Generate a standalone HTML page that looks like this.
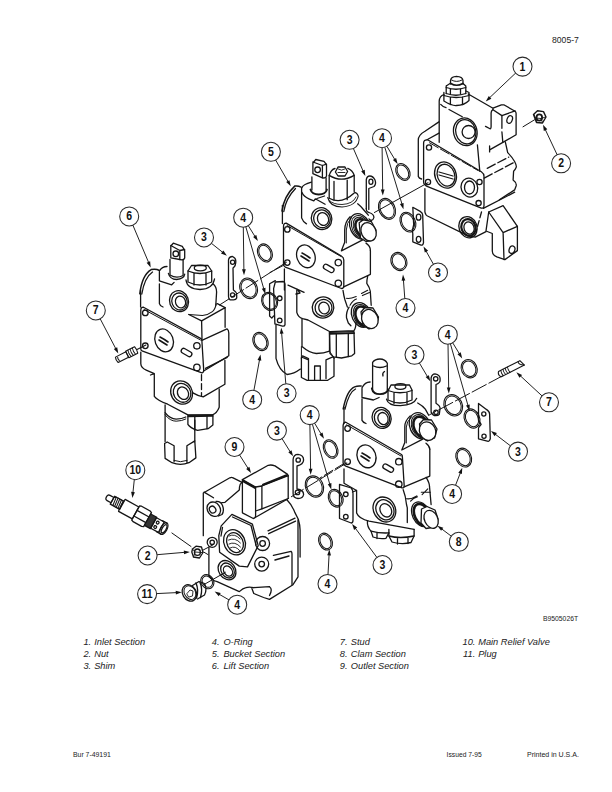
<!DOCTYPE html>
<html><head><meta charset="utf-8"><style>
html,body{margin:0;padding:0;background:#fff;width:612px;height:792px;overflow:hidden}
svg{position:absolute;left:0;top:0}
text{font-family:"Liberation Sans",sans-serif;fill:#222}
.lg{font-style:italic;font-size:9.6px}
.c{fill:none;stroke:#2a2a2a;stroke-width:1.05}
.cn{font-size:12.2px;font-weight:bold;text-anchor:middle;fill:#111}
.ldr{fill:none;stroke:#222;stroke-width:1}
.arw{fill:#111;stroke:none}
.or{stroke-width:1.1}
.or2{stroke-width:1}
.ln{fill:none;stroke:#151515;stroke-width:1.3;stroke-linecap:round;stroke-linejoin:round}
</style></head><body>
<svg width="612" height="792" viewBox="0 0 612 792">
<g id="txt">
<text x="552" y="43" style="font-size:9.6px" transform="translate(552 0) scale(0.9 1) translate(-552 0)">8005-7</text>
<text x="543" y="620.6" style="font-size:8px" transform="translate(543 0) scale(0.85 1) translate(-543 0)">B9505026T</text>
<text x="73" y="757" style="font-size:8px" transform="translate(73 0) scale(0.86 1) translate(-73 0)">Bur 7-49191</text>
<text x="446.6" y="757" style="font-size:8px" transform="translate(446.6 0) scale(0.84 1) translate(-446.6 0)">Issued 7-95</text>
<text x="527" y="757" style="font-size:8px" transform="translate(527 0) scale(0.88 1) translate(-527 0)">Printed in U.S.A.</text>
<g class="lg">
<text x="83.4" y="645.0" transform="translate(83.4 0) scale(0.965 1) translate(-83.4 0)">1.</text><text x="94.2" y="645.0" transform="translate(94.2 0) scale(0.965 1) translate(-94.2 0)">Inlet Section</text>
<text x="83.4" y="657.0" transform="translate(83.4 0) scale(0.965 1) translate(-83.4 0)">2.</text><text x="94.2" y="657.0" transform="translate(94.2 0) scale(0.965 1) translate(-94.2 0)">Nut</text>
<text x="83.4" y="668.9" transform="translate(83.4 0) scale(0.965 1) translate(-83.4 0)">3.</text><text x="94.2" y="668.9" transform="translate(94.2 0) scale(0.965 1) translate(-94.2 0)">Shim</text>
<text x="211.8" y="645.0" transform="translate(211.8 0) scale(0.965 1) translate(-211.8 0)">4.</text><text x="223.4" y="645.0" transform="translate(223.4 0) scale(0.965 1) translate(-223.4 0)">O-Ring</text>
<text x="211.8" y="657.0" transform="translate(211.8 0) scale(0.965 1) translate(-211.8 0)">5.</text><text x="223.4" y="657.0" transform="translate(223.4 0) scale(0.965 1) translate(-223.4 0)">Bucket Section</text>
<text x="211.8" y="668.9" transform="translate(211.8 0) scale(0.965 1) translate(-211.8 0)">6.</text><text x="223.4" y="668.9" transform="translate(223.4 0) scale(0.965 1) translate(-223.4 0)">Lift Section</text>
<text x="339.8" y="645.0" transform="translate(339.8 0) scale(0.965 1) translate(-339.8 0)">7.</text><text x="350.8" y="645.0" transform="translate(350.8 0) scale(0.965 1) translate(-350.8 0)">Stud</text>
<text x="339.8" y="657.0" transform="translate(339.8 0) scale(0.965 1) translate(-339.8 0)">8.</text><text x="350.8" y="657.0" transform="translate(350.8 0) scale(0.965 1) translate(-350.8 0)">Clam Section</text>
<text x="339.8" y="668.9" transform="translate(339.8 0) scale(0.965 1) translate(-339.8 0)">9.</text><text x="350.8" y="668.9" transform="translate(350.8 0) scale(0.965 1) translate(-350.8 0)">Outlet Section</text>
<text x="462.5" y="645.0" transform="translate(462.5 0) scale(0.965 1) translate(-462.5 0)">10.</text><text x="478.2" y="645.0" transform="translate(478.2 0) scale(0.965 1) translate(-478.2 0)">Main Relief Valve</text>
<text x="463.1" y="657.0" transform="translate(463.1 0) scale(0.965 1) translate(-463.1 0)">11.</text><text x="478.2" y="657.0" transform="translate(478.2 0) scale(0.965 1) translate(-478.2 0)">Plug</text>
</g>
</g>

<g id="p1" class="ln">
<!-- fitting -->
<path d="M450.5,84 V80.5 Q451,76.5 456.5,76.3 Q462.5,76.5 463,80.5 V84"/>
<path d="M451.5,80 Q456.5,83 462,80" stroke-width="1"/>
<path d="M450.8,83.5 Q456.5,87 462.8,83.5" stroke-width="1.6"/>
<path d="M446.2,86 L450,83.5 M463,83.5 L465.8,86 M446.2,86 V93.5 M465.8,86 V93.5"/>
<path d="M446.2,87.5 Q456,91 465.8,87.5 M450.4,89 V94 M460.5,89 V94"/>
<path d="M446.2,93.5 Q456,97 465.8,93.5" stroke-width="1.3"/>
<path d="M443.9,92.5 V101 Q452,106 456.5,105.5 Q464,105.5 469,100.5 V92.5 L466,91"/>
<path d="M443.9,95.5 Q456,99.5 469,95.5 M450.4,97.5 V104.5 M462.5,97 V104.5"/>
<!-- boss -->
<path d="M443.9,94.5 Q439.6,96 439.2,101 V142.3"/>
<path d="M468.2,94 L493,108.2"/>
<path d="M440.7,104.4 Q443,107 446,107.6 M449,109.5 L462.3,116.8"/>
<!-- ear -->
<path d="M493,108.2 L501.4,104.8 H503.8 L515.1,111.2 Q516.1,112 516.1,113.5 V134.7 L503.3,142.1 L489.6,149.9"/>
<path d="M489.6,146 V151.9"/>
<path d="M493,109.7 L501.9,115.6 L515.1,110.9"/>
<path d="M501.9,115.6 V128.3 M501.9,131.8 L502.8,142.1"/>
<path d="M493,109.5 Q491,111 491.1,113 V126.4 Q491,129 490,128.8 L485.5,126.4"/>
<ellipse cx="509.7" cy="119.5" rx="2.6" ry="4" transform="rotate(20 509.7 119.5)"/>
<path d="M505.3,141.9 L507.7,152.6 Q512,157 514.6,161.5 Q517,166 516.1,167.4 Q515,170 513.6,171.3 L513.1,180.1 Q517,183 516.1,186 L514.6,189.9 L499.4,199.7"/>
<!-- upper port -->
<ellipse cx="465.3" cy="131.8" rx="11.7" ry="14" transform="rotate(-15 465.3 131.8)"/>
<ellipse cx="465.8" cy="131.8" rx="10" ry="12.3" transform="rotate(-15 465.8 131.8)"/>
<circle cx="468.6" cy="132" r="6.5"/>
<path d="M477.4,144.8 L479.8,171.3"/>
<!-- back plate -->
<path d="M438.9,121.9 L425,131.2 Q418.3,135 418.3,140 V176.5 Q419,178.5 421.6,179"/>
<path d="M439,133.1 L427,139.7"/>
<!-- flange face -->
<path d="M427.6,139.8 L481.3,171.7 Q484,173.5 484,176.3 V205.5 Q484,208.5 481.3,208.1 L428.3,186.9 Q423.6,185 423.6,182 V143 Q423.6,139.5 427.6,139.8 Z"/>
<path d="M429.5,142.8 L478,170.5" stroke-dasharray="10 2.5" stroke-width="1"/>
<path d="M484.2,178.1 L513.1,162.9 M487.2,168.3 L508.7,157.1" stroke-dasharray="9 3"/>
<path d="M483.3,208.4 L514.7,192.2"/>
<circle cx="429" cy="147.5" r="2.6"/><circle cx="479.5" cy="182" r="2.6"/>
<circle cx="428" cy="182" r="2.6"/><circle cx="478.6" cy="203.1" r="2.6"/>
<ellipse cx="445.5" cy="175" rx="10.6" ry="13.4" transform="rotate(-20 445.5 175)"/>
<ellipse cx="446" cy="175.2" rx="8.6" ry="11.2" transform="rotate(-20 446 175.2)"/>
<path d="M439,172 L453,176 M439,175 L453,179"/>
<ellipse cx="469.4" cy="187.6" rx="8.2" ry="9.6" transform="rotate(-20 469.4 187.6)"/>
<ellipse cx="469.5" cy="187.5" rx="5" ry="6.5"/>
<!-- lower body -->
<path d="M424.9,188.6 V212 Q425.5,215.5 428.5,216.5 L467.1,235.3 L475.2,237.1 L486,231.7"/>
<path d="M481.5,212 L476.1,231.7" stroke-dasharray="6 3"/>
<ellipse cx="468" cy="227.2" rx="9" ry="10.8" transform="rotate(-20 468 227.2)"/>
<ellipse cx="468.5" cy="227.5" rx="7" ry="8.5" transform="rotate(-20 468.5 227.5)" stroke-width="2.2"/>
<ellipse cx="469" cy="228" rx="5" ry="6.2" transform="rotate(-20 469 228)"/>
<!-- foot -->
<path d="M486,230.8 L488.7,212 L503.1,205.7 L517.4,226.3 V250.6 L504.9,259.6 L496.8,256.9 Q492.3,255 492.3,251 V233.5 L486,231"/>
<path d="M488.7,212 L503.1,232.6 L517.4,226.3 M503.1,232.6 L504,259.6"/>
<ellipse cx="512" cy="249.7" rx="2.8" ry="3.8" transform="rotate(20 512 249.7)"/>
</g>

<g id="p5" class="ln">
<!-- spool tab -->
<path d="M312.9,173.7 V163 L315.8,159.5 L324,161.4 L326.5,164.7 V176 Q326,178 324,178 L322.4,177.8 L312.9,173.7"/>
<path d="M312.9,162 L322.4,165.5 L326.5,164.2 M322.4,165.5 V177.8"/>
<circle cx="317.6" cy="169.8" r="2.8"/>
<path d="M311.9,177 V190 M326.1,178 V190"/>
<path d="M310.4,189.5 Q312,194.5 318.7,194.5 Q325.5,194.5 327,189.5" stroke-width="1.8"/>
<!-- tall fitting -->
<path d="M329.2,198.2 V175.4 Q331,169.5 335,168.5 M347.8,168.3 Q352.5,170 354.2,175.4 V191.6"/>
<path d="M329.2,175.4 Q341.3,183 354.2,175.4"/>
<path d="M334,181.3 V199.7 M347.2,180.2 V199.7"/>
<path d="M329.2,198.2 Q341.3,205 354.2,193.1"/>
<path d="M335.4,172 L338,167 H345 L347.6,171.5 L345,176 H338 Z"/>
<path d="M338,169 Q341.5,171.5 345,169 M338,172.5 H345" stroke-width="0.9"/>
<path d="M327.7,197.5 Q330,207 342,207 Q356,206 358.2,196 Q357.5,193 354.6,192.4" stroke-width="1.1"/>
<path d="M329.5,200.5 Q333,204.5 342,204.5 Q353,204 356,197" stroke-width="0.9"/>
<!-- top body -->
<path d="M302,187.5 Q303,184.6 311.4,182.2"/>
<path d="M301.6,188 V217.9 Q303,222 306.5,223.8"/>
<path d="M302,192.5 Q303.5,196.5 308.9,198.8 L313.8,200.8 L315.3,198.8 L325.1,204.2 M317,198.5 L324.5,196"/>
<path d="M282,211.1 Q284,196 294.7,186.1 Q298,185.5 301.1,187.1" stroke-width="1.5"/>
<path d="M283.8,211.5 Q285.8,198.5 295.5,188.5" stroke-width="1.3"/>
<path d="M282.4,205.6 V223.5"/>

<!-- upper port -->
<ellipse cx="321.6" cy="218.6" rx="10.2" ry="11" transform="rotate(-20 321.6 218.6)"/>
<ellipse cx="322" cy="218.8" rx="8.3" ry="9" transform="rotate(-20 322 218.8)"/>
<ellipse cx="323" cy="219" rx="5.5" ry="6.5" transform="rotate(-20 323 219)"/>
<!-- right plug upper -->
<path d="M357.7,203.8 Q361,206.5 363,209 L368.3,215.2"/>
<path d="M350.1,216.7 Q344.7,222 344.7,230 V242.3 L341.4,250.8 L362.7,239.8"/><path d="M351.5,217.5 Q346.3,223 346.3,230 V243" stroke-width="1"/>
<path d="M366,243.1 Q370.4,246 370.4,250.4"/>
<ellipse cx="360" cy="226.5" rx="9.8" ry="13.3" transform="rotate(-25 360 226.5)"/>
<ellipse cx="360.6" cy="227" rx="8.5" ry="12" transform="rotate(-25 360.6 227)" stroke-width="1"/>
<ellipse cx="361.2" cy="227.5" rx="7.3" ry="10.7" transform="rotate(-25 361.2 227.5)" stroke-width="1"/>
<ellipse cx="362" cy="228" rx="6" ry="9.2" transform="rotate(-25 362 228)" stroke-width="2.6"/>
<path d="M359.2,222.7 L363.5,219.8 L371.3,221.5 L376,230 L374,239.5 L366,241.5 L360.5,238 Z" fill="#fff"/>
<ellipse cx="368.6" cy="231.8" rx="7.3" ry="9.5" transform="rotate(-25 368.6 231.8)" fill="#fff"/>
<!-- flange face -->
<path d="M286.2,223.1 L341.4,256 Q343.8,257.5 343.8,260 V286 Q343.8,288.5 341.5,288.5 L285.3,267.1 Q283.5,266.5 283.5,264 V226.5 Q283.5,223 286.2,223.1 Z"/>
<path d="M287,225.5 L341,256.5" stroke-width="1"/>
<circle cx="287.3" cy="229.4" r="2.7"/><circle cx="287.3" cy="262.6" r="2.7"/>
<circle cx="338.3" cy="262.6" r="3.2"/><circle cx="338.3" cy="283.3" r="3.2"/>
<ellipse cx="305.9" cy="256.3" rx="9" ry="11.7" transform="rotate(-20 305.9 256.3)"/>
<path d="M302,253 Q306,255 310,258 M301,256 L309,261" stroke-width="1.6"/>
<rect x="323" y="266" width="11.5" height="5" rx="2.5" transform="rotate(30 328.9 268.4)"/>
<!-- right face -->
<path d="M370.4,250.4 V274.3 L343.7,286.9"/>
<!-- lower body -->
<path d="M284.4,269 V290"/>
<path d="M288,285.1 L304.1,292.3 M297,289 L300,293 L296,294"/>
<path d="M343,290.3 Q343.8,296 345,300 L347.4,307.1 M367.7,276.2 Q366.8,280 366.8,283.3 Q370,288 370.3,291.2 L371.2,305.3"/>
<path d="M346.5,298.3 Q350,299 356.2,296.5 M361.5,293.4 L367.7,290.3 M350,305.3 Q353,300 356.5,299 M362.4,295.6 L369.5,292.5" stroke-width="1.1"/>
<path d="M349.1,307.1 Q346,312 346.5,317.7 L348.3,323 L350.9,325.7"/>
<path d="M296.8,290 V312.3 Q298,317 302.6,318.6 L308,320 L330,331.7 L354,330.6 Q356,328 356,322"/>
<ellipse cx="323" cy="307.5" rx="10.8" ry="10.5" transform="rotate(-20 323 307.5)"/>
<ellipse cx="323.5" cy="307.8" rx="8.5" ry="8.3" transform="rotate(-20 323.5 307.8)"/>
<ellipse cx="324" cy="308" rx="5.2" ry="6" transform="rotate(-20 324 308)"/>
<!-- lower plug -->
<ellipse cx="361.5" cy="315" rx="9.7" ry="12.8" transform="rotate(-25 361.5 315)"/>
<ellipse cx="362.2" cy="315.5" rx="8.4" ry="11.5" transform="rotate(-25 362.2 315.5)" stroke-width="1"/>
<ellipse cx="362.9" cy="316" rx="7" ry="10" transform="rotate(-25 362.9 316)" stroke-width="2.6"/>
<path d="M361,312 L365,307.5 L373,308 L378.5,317 L376,326 L369,329 L363,325 Z" fill="#fff"/>
<ellipse cx="369.9" cy="319" rx="8" ry="9.8" transform="rotate(-25 369.9 319)" fill="#fff"/>
<!-- spool housing -->
<path d="M302,319.2 V346.6 Q310,353.5 316.3,353.5 Q324,353.5 329.5,351.2 V331.7"/>
<path d="M301.4,358 V377.5 L307.2,380.3 H327.7 L334,376.3 V358"/>
<path d="M301.4,358 L302.6,355.8 L308.5,358.5 V379.8 M302.6,357.5 L308.5,359.8" />
<path d="M334,358 L332.9,356.9 L326,359.8 V378.6"/>
<path d="M314.6,379.8 V366 H320.3 V379.5"/>
<path d="M301.4,346.6 V358 M329.5,351.2 L334,358" stroke-width="1"/>
<!-- hex boss -->
<path d="M329.5,332.3 L354,331.7 L354.6,353.5 L351.8,355.8 L341.5,358 L333.5,356.9 L330,353.5 Z"/>
<path d="M336.3,334 V357 M348.3,334 V356.5"/>
<path d="M329.8,333.8 L354,333.2" stroke-width="1.8"/>
</g>
<g id="p5x" class="ln">
<!-- shim top (bucket right) -->
<path d="M366.3,208.4 V179.5 Q367,176 369.8,176 Q373,176 375,180 Q376.5,184 374,186.5 L368.8,188.5 V209.4"/>
<ellipse cx="370.9" cy="181.7" rx="2" ry="2.6"/>
<path d="M366.3,208.4 Q366,212 369,212.5 Q374,214 373.9,217.5 Q373.5,220 371,220.5 L369,219"/>
<!-- shim left of bucket lower -->
<path d="M273.6,288.6 L275.3,282 L283.3,281.5 Q285,282.4 285,284 V324.8 Q284.5,326.5 282.4,326.1 L274.9,323.9 Z"/><path d="M275.3,280.6 L269.6,283.7 V316 L271.8,318.1 L273.6,316"/>
<circle cx="279.7" cy="298.3" r="2.3"/><circle cx="279.7" cy="320.4" r="2.3"/>
<path d="M276,325 V358.3 Q279,370 287,374.5 Q294,374 300.4,369.1"/>
<!-- o-rings -->
<ellipse class="or" cx="387.0" cy="208.9" rx="8.0" ry="10.9" transform="rotate(-25 387.0 208.9)"/><ellipse class="or2" cx="387.0" cy="208.9" rx="6.6" ry="9.5" transform="rotate(-25 387.0 208.9)"/>
<ellipse class="or" cx="402.9" cy="172.0" rx="6.5" ry="9.0" transform="rotate(-30 402.9 172.0)"/><ellipse class="or2" cx="402.9" cy="172.0" rx="5.1" ry="7.6" transform="rotate(-30 402.9 172.0)"/>
<ellipse class="or" cx="407.9" cy="222.1" rx="7.4" ry="10.3" transform="rotate(-25 407.9 222.1)"/><ellipse class="or2" cx="407.9" cy="222.1" rx="6.0" ry="8.9" transform="rotate(-25 407.9 222.1)"/>
<ellipse class="or" cx="398.9" cy="261.5" rx="7.7" ry="9.4" transform="rotate(-25 398.9 261.5)"/><ellipse class="or2" cx="398.9" cy="261.5" rx="6.3" ry="8.0" transform="rotate(-25 398.9 261.5)"/>
<!-- shim near p1 -->
<path d="M412.8,207.3 L420.2,211.4 Q422.7,213 422.7,215 L423.5,242.6 Q423,245.5 421,245.1 L412.8,241.8 V233.6 Q412,231 413.7,224.6 Z"/>
<ellipse cx="418.6" cy="217.2" rx="2.3" ry="3"/><ellipse cx="418.6" cy="239.3" rx="2.3" ry="3"/>
<!-- alignment dashed line -->
<path d="M428,182.7 L374.4,212.5" stroke-width="1"/>
<path d="M285.3,264.4 L270,272.5" stroke-width="1"/>
</g>

<g id="p6" class="ln">
<!-- spool tab -->
<path d="M170.8,257.9 V246 L173.3,243.2 L182.3,246.4 L184.7,250.5 V258 Q184,260 182,259.8 L179.8,259.5 L170.8,257.9"/>
<path d="M170.8,245.5 L179.8,250.5 L184.7,249.5 M179.8,250.5 V259.5"/>
<circle cx="175.8" cy="253.8" r="2.8"/>
<path d="M170,259.5 V275 Q176.5,279 183.1,275.5 V259.5"/>
<path d="M168.4,273.4 Q170,279.5 176.6,279.5 Q184,279 184.7,274.2"/>
<!-- fitting -->
<path d="M188,271 L191.5,265.5 H208 L211.7,271 V282 Q200,288 188,282 Z"/>
<path d="M188,271 Q200,276 211.7,271 M194,273.5 V285 M206,273.5 V285"/>
<ellipse cx="200.3" cy="268" rx="6" ry="2.8"/>
<path d="M186,280 Q187,289 200,289.5 Q213,289 214.5,279"/>
<!-- top body -->
<path d="M159.4,271 Q162,266.5 167,266.5 M159.4,272 V280.8 L171.7,284.8 L174.1,282.4"/>
<path d="M139.8,293.8 Q142,275 151.2,269.6 Q156,268.5 159.4,270.5" stroke-width="1.5"/>
<path d="M141.8,294 Q144.5,277.5 152.5,272" stroke-width="1.3"/>
<path d="M140.6,290.6 V307"/>
<path d="M159.4,284 V303.6 Q160,306 163,307"/>
<path d="M213.3,284 Q216.6,287 216.6,292 L215.8,305.3"/>
<!-- port -->
<ellipse cx="179" cy="301.2" rx="9.4" ry="10.6" transform="rotate(-20 179 301.2)"/>
<ellipse cx="179.5" cy="301.5" rx="7.6" ry="8.6" transform="rotate(-20 179.5 301.5)"/>
<ellipse cx="180.5" cy="302" rx="5" ry="6" transform="rotate(-20 180.5 302)"/>
<!-- flange face -->
<path d="M143.5,307.2 L201,338.6 Q202,339.5 201.9,341 L203.7,370 Q203.5,373 201.9,372.8 L142.6,351.2 Q140.8,350.5 140.8,349 V310 Q141,307 143.5,307.2 Z"/>
<path d="M144,309.5 L200.5,340" stroke-width="1"/>
<circle cx="145.3" cy="312.9" r="2.8"/><circle cx="145.3" cy="345.8" r="2.8"/>
<circle cx="196.9" cy="345.8" r="3.2"/><circle cx="196.9" cy="367.4" r="3.2"/>
<ellipse cx="164.1" cy="340.4" rx="9" ry="11.7" transform="rotate(-20 164.1 340.4)"/>
<path d="M160,337 Q164,339 168,342 M159,340 L167,345" stroke-width="1.6"/>
<rect x="181" y="350" width="11.5" height="5" rx="2.5" transform="rotate(30 186.6 352.1)"/>
<!-- right faces -->
<path d="M188.8,314.5 L201.6,320.9 L225.1,307.6 V327.3"/>
<path d="M217.3,303.7 L225.1,307.6"/>
<path d="M216.3,303.7 Q215,310 212.4,311.6 Q208,315 202.5,315.5 L188.8,314.5" stroke-width="1.1"/>
<path d="M201.6,320.9 L202,339"/>
<path d="M201.9,340.4 L227,328.8 Q228.8,330 228.8,333 V355.7 L203.7,371"/>
<path d="M205.5,368.3 L227.2,357.4"/>
<!-- lower body -->
<path d="M140.8,352.1 V363.8 Q141,368 146.2,370.1 L154.3,373.7 L150.5,375 M154.3,373.7 V396.3 Q157,400 167.7,404.2 L187.9,414.9 L212.4,414.9 Q217,413 219.2,407.2 V388.9"/>
<path d="M224.9,360.3 V384.3 L203.2,396.9 Q198,396 192.9,392.9"/>
<path d="M201.5,374.6 V395.8" stroke-dasharray="6 3"/>
<ellipse cx="181.6" cy="392.5" rx="10.6" ry="12" transform="rotate(-30 181.6 392.5)"/>
<ellipse cx="182.1" cy="392.8" rx="8.5" ry="9.7" transform="rotate(-30 182.1 392.8)"/>
<ellipse cx="183" cy="393.2" rx="5.3" ry="6.5" transform="rotate(-30 183 393.2)"/>
<!-- spool housing -->
<path d="M165.1,404.8 V441.4 M194.8,420.2 V440.9"/>
<path d="M165.1,412.7 Q170,419.1 176.2,419.1 Q182,419 185.8,417"/>
<path d="M165.1,414.8 Q170,421.2 176.2,421.2 Q182,421 185.8,419" stroke-width="1"/>
<path d="M187.9,415.4 L212.9,414.9 V425 L208.1,428.7 L197.5,430.3 Q190,428 187.9,424.4 Z"/>
<path d="M194.8,417 V430 M207,416 V428.7"/>
<path d="M188.3,416.3 L212.5,415.9" stroke-width="1.8"/>
<path d="M164.6,443.5 L167.2,442 L174.1,445.7 V461.6 M164.6,443.5 L165.1,458.4 L172,462.7 Q180.5,466 189,462.7 L195.9,457.9 L194.8,440.9 L186.9,445.7 V462.7"/>
<path d="M174,460.5 Q180.5,463 187,460.5" stroke-width="1"/>
</g>
<g id="p6x" class="ln">
<!-- shim -->
<path d="M228.5,296.5 V260 Q229,256.5 232.6,256.5 Q235.8,258 235.8,261 Q236,266 233,268 L233.4,290 Q236.7,292 236.7,295 V298 Q236,300 233,299.8 H230.1 Q228.5,299 228.5,296.5"/>
<circle cx="232.6" cy="262.2" r="2.1"/><circle cx="232.6" cy="294.9" r="2.1"/>
<ellipse class="or" cx="264.9" cy="252.9" rx="7.0" ry="9.4" transform="rotate(-25 264.9 252.9)"/><ellipse class="or2" cx="264.9" cy="252.9" rx="5.6" ry="8.0" transform="rotate(-25 264.9 252.9)"/>
<ellipse class="or" cx="248.6" cy="288.3" rx="8.5" ry="10.6" transform="rotate(-25 248.6 288.3)"/><ellipse class="or2" cx="248.6" cy="288.3" rx="7.1" ry="9.2" transform="rotate(-25 248.6 288.3)"/>
<ellipse class="or" cx="269.6" cy="301.4" rx="7.7" ry="9.3" transform="rotate(-25 269.6 301.4)"/><ellipse class="or2" cx="269.6" cy="301.4" rx="6.5" ry="8.1" transform="rotate(-25 269.6 301.4)"/>
<ellipse class="or" cx="260.5" cy="341.5" rx="7.2" ry="9.5" transform="rotate(-25 260.5 341.5)"/><ellipse class="or2" cx="260.5" cy="341.5" rx="5.8" ry="8.1" transform="rotate(-25 260.5 341.5)"/>
<path d="M286.5,262.2 L219.5,305" stroke-dasharray="14 3" stroke-width="1"/>
</g>
<g id="p8" class="ln">
<!-- spool stem -->
<path d="M372.6,390.1 V362.4 Q375,359 379.9,359 Q385,359 387.3,363.2 V390.1"/>
<path d="M373.5,366 Q380,369 386.5,366"/>
<path d="M384.5,371.5 Q382,373 383,376"/>
<path d="M371.8,388.5 Q373,394.2 380,394.2 Q387,394 388.1,389.3" stroke-width="1.8"/>
<!-- top body -->
<path d="M362,387.7 Q365,382 370.1,382 M362,388 V397.5 L373.4,400 L379.1,397.5"/>
<path d="M343.2,408.9 Q347,390 354.6,386.9 Q358,385.5 361.1,386.1" stroke-width="1.5"/>
<path d="M345,409 Q349,392 355.5,389" stroke-width="1.3"/>
<path d="M344,407.3 V423.6"/>
<path d="M362,399 V420.4 Q363,422.5 366,423.5"/>
<!-- fitting -->
<path d="M388,391 L391,385 H409.5 L412,390 V400 Q400,406 388,400 Z"/>
<path d="M388,390.5 Q400,395 412,390.5 M394,393 V403.5 M407,393 V403.5"/>
<ellipse cx="400.4" cy="386.5" rx="5.5" ry="2.8"/>
<path d="M386.5,399.1 Q388,405.7 400.4,405.7 Q414,405 416.7,398.3"/>
<!-- port -->
<ellipse cx="381.6" cy="417.9" rx="9.4" ry="10.6" transform="rotate(-20 381.6 417.9)"/>
<ellipse cx="382" cy="418.2" rx="7.6" ry="8.6" transform="rotate(-20 382 418.2)"/>
<ellipse cx="383" cy="418.6" rx="5" ry="6.2" transform="rotate(-20 383 418.6)"/>
<!-- upper plug -->
<path d="M417.7,403 Q423,406 425.3,409.1 L428.7,415.2"/>
<path d="M410.2,415.9 Q404.8,421 404.8,426.5 V442.4 L401.8,450 L422.3,439.4"/>
<path d="M411.7,416.7 Q406.3,422 406.3,427 V443" stroke-width="1"/>
<path d="M426,443.2 Q429.8,446 429.8,449.2"/>
<ellipse cx="420" cy="425.8" rx="10.2" ry="13.6" transform="rotate(-25 420 425.8)"/>
<ellipse cx="420.7" cy="426.3" rx="8.8" ry="12.2" transform="rotate(-25 420.7 426.3)" stroke-width="1"/>
<ellipse cx="421.4" cy="426.8" rx="7.4" ry="10.7" transform="rotate(-25 421.4 426.8)" stroke-width="2.6"/>
<path d="M419.5,424 L423.5,419.5 L431.5,420 L437,429 L434.5,438 L427.5,441 L421.5,437 Z" fill="#fff"/>
<ellipse cx="427.6" cy="431.1" rx="8" ry="9.5" transform="rotate(-25 427.6 431.1)" fill="#fff"/>
<!-- flange face -->
<path d="M345.8,422.2 L401.5,454.5 Q402.5,455.5 402.4,457 L404.2,486 Q404,488.5 402,487.8 L345.8,466.2 Q343.1,465 343.1,463 V425.5 Q343.5,422 345.8,422.2 Z"/>
<path d="M346.5,424.8 L401,456" stroke-width="1"/>
<circle cx="347.6" cy="428.5" r="2.8"/><circle cx="347.6" cy="461.7" r="2.8"/>
<circle cx="398.8" cy="461.7" r="3.2"/><circle cx="398.8" cy="484.2" r="3.2"/>
<ellipse cx="366.5" cy="456.3" rx="9.3" ry="11.7" transform="rotate(-20 366.5 456.3)"/>
<path d="M362,453 Q366,455 370,458 M361,456 L369,461" stroke-width="1.6"/>
<rect x="382.5" y="465.5" width="11.5" height="5" rx="2.5" transform="rotate(30 388 468)"/>
<!-- right face -->
<path d="M429.8,449.2 V476.1 L404.2,486.9"/>
<!-- lower body -->
<path d="M344,469 V483.3 L356.6,490.5 L352.5,492 M356.6,490.5 V513.1 Q359,519 369.1,521.2 L414.1,529.3"/>
<path d="M403.2,489.7 Q405.7,496 406.5,504.5 L407.3,507.8 V522.5 M426.2,477.4 Q429.5,483 429.5,486.4 L431.1,504.5"/>
<path d="M406.5,498.7 Q411,499.5 416.8,495.9 M421.3,492.2 H430.3 M410.6,501.2 Q413,498 417.5,496.8 M422.1,494.6 L427.8,488.9" stroke-width="1.1"/>
<ellipse cx="384.4" cy="509.5" rx="10.8" ry="13" transform="rotate(-30 384.4 509.5)"/>
<ellipse cx="384.9" cy="509.8" rx="8.6" ry="10.5" transform="rotate(-30 384.9 509.8)"/>
<ellipse cx="385.8" cy="510.3" rx="5.5" ry="7" transform="rotate(-30 385.8 510.3)"/>
<!-- lower plug -->
<ellipse cx="421.2" cy="514.3" rx="8.8" ry="13" transform="rotate(-25 421.2 514.3)"/>
<ellipse cx="422" cy="514.8" rx="7.3" ry="11.5" transform="rotate(-25 422 514.8)" stroke-width="2.6"/>
<path d="M421.5,509 L427,506.5 L435,510 L438,519 L435,527 L426,528.5 L421,523 Z" fill="#fff"/>
<ellipse cx="431.1" cy="519.3" rx="6.6" ry="9.4" transform="rotate(-25 431.1 519.3)" fill="#fff"/>
<!-- bottom bosses -->
<path d="M367.4,521 Q367,527 371,531.1 L373,537 Q380,539.5 386,538.3 L388.9,532.9"/>
<path d="M371,531.1 Q380,533.5 388.9,532.9 M377,532.5 V538.5"/>
<path d="M388.9,529.3 V536 L392,542 Q402,545 411,542.5 L414.1,536 V529.3"/>
<path d="M388.9,536 Q400,539 414.1,536 M397.5,538 V544 M408,537.5 V543.5"/>
</g>
<g id="p8x" class="ln">
<!-- shim top -->
<path d="M431.1,411.5 V378 Q432,373.9 435,373.9 Q440.1,375 440.1,378.5 V380.5 Q440,383 436,384.5 V403.3 Q440.1,406 440.1,408.2 L439.3,414.3 Q438,416 434.4,415.6 Q431.1,414 431.1,411.5"/>
<circle cx="435.7" cy="378.8" r="2.2"/><circle cx="436" cy="412.3" r="2.2"/>
<ellipse class="or" cx="469.2" cy="368.7" rx="7.8" ry="9.4" transform="rotate(-25 469.2 368.7)"/><ellipse class="or2" cx="469.2" cy="368.7" rx="6.4" ry="8.0" transform="rotate(-25 469.2 368.7)"/>
<ellipse class="or" cx="453.2" cy="405.3" rx="9.0" ry="11.0" transform="rotate(-25 453.2 405.3)"/><ellipse class="or2" cx="453.2" cy="405.3" rx="7.6" ry="9.6" transform="rotate(-25 453.2 405.3)"/>
<ellipse class="or" cx="472.0" cy="418.5" rx="7.5" ry="10.0" transform="rotate(-25 472.0 418.5)"/><ellipse class="or2" cx="472.0" cy="418.5" rx="6.1" ry="8.6" transform="rotate(-25 472.0 418.5)"/>
<ellipse class="or" cx="463.7" cy="457.6" rx="7.5" ry="9.8" transform="rotate(-25 463.7 457.6)"/><ellipse class="or2" cx="463.7" cy="457.6" rx="6.1" ry="8.4" transform="rotate(-25 463.7 457.6)"/>
<path d="M503,375.6 L429.5,414.8" stroke-dasharray="16 3" stroke-width="1"/>
<path d="M344,463.5 L320,478" stroke-dasharray="10 3" stroke-width="1"/>
<!-- shim lower left -->
<path d="M339.5,484.4 L351.2,488 Q353,490 353,493.4 V520.3 Q353,523 351.2,523 L339.5,518.5 Z"/>
<circle cx="345.8" cy="494.3" r="2.3"/><circle cx="345.8" cy="516.7" r="2.3"/>
</g>
<g id="p9" class="ln">
<!-- cap block -->
<path d="M242.4,479.6 V512.8 L253.3,518.5 Q255.6,518 255.6,516 V487 L242.4,479.6 Z"/>
<path d="M255.6,487 L261.9,486 V508.8 L255.6,511"/>
<path d="M261.9,486 L288.2,475.6 V498.5 L261.9,508.8"/>
<path d="M242.4,479.6 L268.2,465.3 Q271.5,464.5 275,465.9 L287.6,474.4 Q288.2,475 288.2,476"/>
<path d="M243.8,481.5 L255,487.8" stroke-width="2.2"/>
<path d="M263,484.8 L286.5,475.2" stroke-width="2"/>
<!-- main plate -->
<path d="M203.3,535.7 V493 L229.9,477.8 Q231.5,477 233.1,477.8 L242.1,482.3 Q239.7,484 239.5,487 L239.3,490 L225,502.3 L221.7,502.7"/>
<path d="M204.1,492.1 L213.5,497.8"/>
<path d="M208.9,547.2 V575.2 Q211,580 217.1,581.7 L239.3,591.6 Q243,588 246,587.6 Q249,586.5 253.8,587.6"/>
<path d="M255.2,517.5 L286.7,499.5 Q292,505 294.7,512.1 L298.3,519.3 Q300,525 300.1,530 V557"/>
<path d="M268.7,533.7 L295.6,521.1 M268,530.8 L295,518.2" stroke-width="1.3"/>
<path d="M298,520 V576.9 L293,584.7 L269.5,599.4 L263.6,597.5 L253.8,593.5 L251.9,588.6"/>
<path d="M273.4,555.3 L291.1,551.4 Q292,552 292,554 V584.7"/>
<path d="M275,560 L289,556" stroke-width="1.4"/>
<path d="M269.5,586.7 Q273,589 269.5,595.5 M253.8,587.6 L269.5,586.7"/>
<!-- big hex nut -->
<path d="M221.2,525.9 L231.9,514.4 L252.4,524.2 L258.2,545.6 L247.5,566.9 L239.3,566.1 L219.6,552.2 L218.8,535.7 Z"/>
<path d="M232.5,517 L251,525.5 L256,545 M222.5,527.5 L221,536"/>
<ellipse cx="234.5" cy="542.3" rx="10.5" ry="13" transform="rotate(-25 234.5 542.3)"/>
<ellipse cx="235" cy="542.6" rx="8" ry="10.3" transform="rotate(-25 235 542.6)"/>
<path d="M229,536 Q235,533 240,539 M228.5,540 Q235,537 240.5,543 M229,544 Q235,541 240.5,547 M230,548 Q235.5,545 240,551" stroke-width="0.9"/>
<!-- bosses -->
<ellipse cx="213.8" cy="509.2" rx="6.3" ry="7.6" transform="rotate(-35 213.8 509.2)"/><ellipse cx="212.6" cy="509.6" rx="3" ry="3.6" transform="rotate(-35 212.6 509.6)"/>
<path d="M216,501.5 Q220.5,501 222.5,505.5 Q224.5,511 222,514.5 L218.5,516"/>
<circle cx="262.6" cy="543.5" r="7"/><circle cx="262.6" cy="543.5" r="2.8"/>
<circle cx="261.7" cy="564.1" r="7"/><circle cx="261.7" cy="564.1" r="2.8"/>
<circle cx="212.2" cy="542.3" r="5"/><circle cx="212.2" cy="542.3" r="2.2"/>
<!-- lower port -->
<ellipse cx="227" cy="570.2" rx="8.2" ry="10.3" transform="rotate(-35 227 570.2)"/>
<ellipse cx="227.5" cy="570.5" rx="6.2" ry="8" transform="rotate(-35 227.5 570.5)"/>
<ellipse cx="228" cy="571" rx="4" ry="5.5" transform="rotate(-35 228 571)"/>
</g>
<g id="p9x" class="ln">
<path d="M293.1,493.5 V459.5 Q293.5,454.3 298,454.3 Q303.6,455 303.6,460 Q303.4,464.5 297,466 V489 Q303.6,490 303.6,494.5 Q303,498.5 298,498.5 Q293.1,498 293.1,493.5 Z"/>
<circle cx="298.2" cy="460" r="2.2"/><circle cx="297.5" cy="492.4" r="2.2"/>
<ellipse class="or" cx="330.6" cy="449.0" rx="6.8" ry="9.6" transform="rotate(-25 330.6 449.0)"/><ellipse class="or2" cx="330.6" cy="449.0" rx="5.4" ry="8.2" transform="rotate(-25 330.6 449.0)"/>
<ellipse class="or" cx="314.4" cy="486.5" rx="8.8" ry="11.0" transform="rotate(-25 314.4 486.5)"/><ellipse class="or2" cx="314.4" cy="486.5" rx="7.4" ry="9.6" transform="rotate(-25 314.4 486.5)"/>
<ellipse class="or" cx="335.7" cy="498.2" rx="7.0" ry="9.2" transform="rotate(-25 335.7 498.2)"/><ellipse class="or2" cx="335.7" cy="498.2" rx="5.6" ry="7.8" transform="rotate(-25 335.7 498.2)"/>
<ellipse class="or" cx="325.5" cy="541.6" rx="6.5" ry="8.8" transform="rotate(-25 325.5 541.6)"/><ellipse class="or2" cx="325.5" cy="541.6" rx="5.1" ry="7.4" transform="rotate(-25 325.5 541.6)"/>
<path d="M346.8,462.9 L286.5,499.7" stroke-dasharray="14 3" stroke-width="1"/>
<!-- relief valve 10 -->
<g transform="translate(107.3 497.3) rotate(29) scale(0.98 1)">
<path d="M6,-3 H1.5 Q-1,-3 -1,0 Q-1,3 1.5,3 H6 Z"/>
<path d="M6,-4.5 H17 M6,4.5 H17 M6,-4.5 V4.5 M17,-4.5 V4.5"/>
<path d="M8,-4.5 l1,9 M10,-4.5 l1,9 M12,-4.5 l1,9 M14,-4.5 l1,9 M16,-4.5 l1,9" stroke-width="1.1"/>
<path d="M17,-6.8 H33 V6.8 H17 Q15.5,0 17,-6.8 Z"/>
<path d="M33,-8 L35,-8.8 H45 L47,-8 V8 L45,8.8 H35 L33,8 Z"/>
<path d="M33,-3 H47 M33,3.5 H47"/>
<path d="M47,-6.5 H54 V6.5 H47 Z" fill="#333"/>
<path d="M54,-6 H63 V6 H54 Z"/>
<circle cx="57.5" cy="-2.3" r="1.4"/><circle cx="57.5" cy="2.8" r="1.4"/>
<path d="M61,-6.3 H66 M61,6.3 H66" />
<ellipse cx="66" cy="0" rx="3.2" ry="6.3"/>
<ellipse cx="66.3" cy="0" rx="2" ry="4.6"/>
</g>
<!-- nut 2 -->
<path d="M192.5,549 L196,546.2 L201.5,547 L203,552.5 L199.5,558 L193.5,557 L191.8,552 Z"/>
<ellipse cx="197.4" cy="552.2" rx="3" ry="3.2"/>
<path d="M192.5,549 L195,552 L193.5,557 M195,552 L201,552.5 L203,552.5" stroke-width="0.9"/>
<path d="M171.9,533 L191,546.5 M202.3,550.5 L213,544.8 M204,552.2 L208,554.6" stroke-width="1"/>
<!-- plug 11 -->
<ellipse cx="189.4" cy="592.9" rx="6.8" ry="8.6" transform="rotate(-30 189.4 592.9)"/><ellipse cx="189.9" cy="592.6" rx="5.5" ry="7.2" transform="rotate(-30 189.9 592.6)" stroke-width="1"/>
<path d="M187,593.5 L190,590 L193,591 L192.5,596 L189,597 Z" stroke-width="0.9"/>
<path d="M192.5,585.5 L199,581.5 L204.5,583.5 Q207.5,589.5 204.5,595 L197.5,599"/>
<path d="M196,583 Q199,590 196.5,598 M200,582.5 Q203,589 200.5,597.5" stroke-width="1.4"/>
<ellipse cx="207.3" cy="581.7" rx="6.2" ry="7.4" transform="rotate(-35 207.3 581.7)" stroke-width="1.1"/><ellipse cx="207.3" cy="581.7" rx="4.8" ry="6" transform="rotate(-35 207.3 581.7)" stroke-width="1"/>
<path d="M225.4,572.3 L204.1,584.5" stroke-width="1"/>
</g>
<g id="misc" class="ln">
<!-- nut 2 top -->
<path d="M533.5,114.5 L537.5,110.8 L543.5,111.6 L546,117 L542.5,123 L536.5,122.5 Z" stroke-width="1.4"/>
<path d="M534,114.5 L535.5,118 L537,122 M535.5,118 L541,118.5 L545.5,117 M541,118.5 L542.5,122.5" stroke-width="0.9"/>
<ellipse cx="539.3" cy="117.5" rx="2.8" ry="3.1" stroke-width="1.8"/>
<path d="M534.5,119.8 L523,126.8" stroke-width="1"/>
<!-- stud left -->
<g transform="translate(2.5 1.2) rotate(-27 114.3 358.6)" stroke-width="1.1">
<path d="M114.3,355.6 H126 V361.6 H114.3 Q113,358.6 114.3,355.6 Z"/>
<path d="M116.2,356.8 Q115.2,358.6 116.2,360.4"/>
<path d="M126,355 H136 Q137,358.6 136,362.2 H126 Z"/>
<path d="M128.5,355 Q127.5,358.6 128.5,362.2 M131,355 Q130,358.6 131,362.2 M133.5,355 Q132.5,358.6 133.5,362.2" stroke-width="0.9"/>
<path d="M137,358.6 H147" stroke-width="1"/>
</g>
<!-- stud right -->
<g transform="rotate(-27 498.7 374.8)" stroke-width="1.1">
<path d="M500,371.8 H524 L526,377.8 H500 Q497.5,374.8 500,371.8 Z"/>
<path d="M502.5,371.8 Q501.5,374.8 502.5,377.8 M505,371.8 Q504,374.8 505,377.8 M507.5,371.8 Q506.5,374.8 507.5,377.8 M510,371.8 Q509,374.8 510,377.8" stroke-width="0.9"/>
<path d="M522,371.8 Q520.5,374.8 526,377.8" stroke-width="1"/>
</g>
<!-- shim right of clam -->
<path d="M478.5,403.5 L486.4,409.4 Q489.6,411.5 489.6,414 L490.3,438.8 Q489.5,441.5 488.3,441.4 L478.5,438.8 V430.3 Q478,427 481.1,424.4 L478.5,420 Z"/>
<circle cx="483.8" cy="414" r="2.1"/><circle cx="484" cy="436.2" r="2.1"/>
</g>
<g id="callouts">
<path class="ldr" d="M515.6,73.1 L489.3,98.0"/>
<path class="arw" d="M485.7,101.4 L488.8,95.9 L491.4,98.7 Z"/>
<circle class="c" cx="522.5" cy="66.6" r="9.5"/>
<text class="cn" x="522.5" y="70.7" transform="translate(522.5 0) scale(0.86 1) translate(-522.5 0)">1</text>
<path class="ldr" d="M557.1,154.7 L545.1,129.2"/>
<path class="arw" d="M543.0,124.7 L547.3,129.3 L543.8,130.9 Z"/>
<circle class="c" cx="561.1" cy="163.3" r="9.5"/>
<text class="cn" x="561.1" y="167.4" transform="translate(561.1 0) scale(0.86 1) translate(-561.1 0)">2</text>
<path class="ldr" d="M353.4,148.5 L363.3,171.5"/>
<path class="arw" d="M365.3,176.1 L361.2,171.3 L364.7,169.8 Z"/>
<circle class="c" cx="349.6" cy="139.8" r="9.5"/>
<text class="cn" x="349.6" y="143.9" transform="translate(349.6 0) scale(0.86 1) translate(-349.6 0)">3</text>
<path class="ldr" d="M382.1,147.7 L382.7,190.5"/>
<path class="arw" d="M382.8,195.5 L380.8,189.5 L384.6,189.5 Z"/>
<path class="ldr" d="M386.9,146.3 L395.0,159.8"/>
<path class="arw" d="M397.6,164.1 L392.9,159.9 L396.1,158.0 Z"/>
<path class="ldr" d="M384.8,147.3 L402.1,204.4"/>
<path class="arw" d="M403.5,209.2 L399.9,204.0 L403.6,202.9 Z"/>
<circle class="c" cx="382" cy="138.2" r="9.5"/>
<text class="cn" x="382" y="142.3" transform="translate(382 0) scale(0.86 1) translate(-382 0)">4</text>
<path class="ldr" d="M275.6,160.0 L288.3,182.0"/>
<path class="arw" d="M290.8,186.3 L286.2,182.1 L289.4,180.2 Z"/>
<circle class="c" cx="270.9" cy="151.8" r="9.5"/>
<text class="cn" x="270.9" y="155.9" transform="translate(270.9 0) scale(0.86 1) translate(-270.9 0)">5</text>
<path class="ldr" d="M132.9,225.2 L148.8,262.9"/>
<path class="arw" d="M150.7,267.5 L146.6,262.7 L150.1,261.2 Z"/>
<circle class="c" cx="129.2" cy="216.4" r="9.5"/>
<text class="cn" x="129.2" y="220.5" transform="translate(129.2 0) scale(0.86 1) translate(-129.2 0)">6</text>
<path class="ldr" d="M211.4,243.3 L223.0,252.6"/>
<path class="arw" d="M226.9,255.7 L221.0,253.4 L223.4,250.5 Z"/>
<circle class="c" cx="204" cy="237.4" r="9.5"/>
<text class="cn" x="204" y="241.5" transform="translate(204 0) scale(0.86 1) translate(-204 0)">3</text>
<path class="ldr" d="M243.3,227.2 L243.9,270.3"/>
<path class="arw" d="M244.0,275.3 L242.0,269.3 L245.8,269.3 Z"/>
<path class="ldr" d="M248.3,225.7 L255.2,236.8"/>
<path class="arw" d="M257.9,241.0 L253.1,236.9 L256.3,234.9 Z"/>
<path class="ldr" d="M245.8,226.8 L263.9,289.2"/>
<path class="arw" d="M265.3,294.0 L261.8,288.8 L265.5,287.7 Z"/>
<circle class="c" cx="243.2" cy="217.7" r="9.5"/>
<text class="cn" x="243.2" y="221.8" transform="translate(243.2 0) scale(0.86 1) translate(-243.2 0)">4</text>
<path class="ldr" d="M100.2,318.8 L116.0,349.1"/>
<path class="arw" d="M118.3,353.5 L113.8,349.1 L117.2,347.3 Z"/>
<circle class="c" cx="95.8" cy="310.4" r="9.5"/>
<text class="cn" x="95.8" y="314.5" transform="translate(95.8 0) scale(0.86 1) translate(-95.8 0)">7</text>
<path class="ldr" d="M433.4,264.2 L425.9,250.8"/>
<path class="arw" d="M423.5,246.4 L428.1,250.7 L424.8,252.6 Z"/>
<circle class="c" cx="438" cy="272.5" r="9.5"/>
<text class="cn" x="438" y="276.6" transform="translate(438 0) scale(0.86 1) translate(-438 0)">3</text>
<path class="ldr" d="M404.8,298.5 L403.4,279.6"/>
<path class="arw" d="M403.0,274.6 L405.3,280.4 L401.6,280.7 Z"/>
<circle class="c" cx="405.5" cy="308" r="9.5"/>
<text class="cn" x="405.5" y="312.1" transform="translate(405.5 0) scale(0.86 1) translate(-405.5 0)">4</text>
<path class="ldr" d="M253.9,390.4 L259.6,359.4"/>
<path class="arw" d="M260.5,354.5 L261.3,360.7 L257.5,360.1 Z"/>
<circle class="c" cx="252.2" cy="399.7" r="9.5"/>
<text class="cn" x="252.2" y="403.8" transform="translate(252.2 0) scale(0.86 1) translate(-252.2 0)">4</text>
<path class="ldr" d="M285.8,383.8 L281.6,332.7"/>
<path class="arw" d="M281.2,327.7 L283.6,333.5 L279.8,333.8 Z"/>
<circle class="c" cx="286.6" cy="393.3" r="9.5"/>
<text class="cn" x="286.6" y="397.4" transform="translate(286.6 0) scale(0.86 1) translate(-286.6 0)">3</text>
<path class="ldr" d="M419.4,363.0 L427.7,377.0"/>
<path class="arw" d="M430.3,381.3 L425.6,377.1 L428.9,375.2 Z"/>
<circle class="c" cx="414.5" cy="354.8" r="9.5"/>
<text class="cn" x="414.5" y="358.9" transform="translate(414.5 0) scale(0.86 1) translate(-414.5 0)">3</text>
<path class="ldr" d="M448.0,344.2 L448.7,388.5"/>
<path class="arw" d="M448.8,393.5 L446.8,387.5 L450.6,387.5 Z"/>
<path class="ldr" d="M452.7,342.8 L459.6,354.1"/>
<path class="arw" d="M462.2,358.4 L457.5,354.3 L460.7,352.3 Z"/>
<path class="ldr" d="M450.4,343.8 L468.1,405.9"/>
<path class="arw" d="M469.5,410.7 L466.0,405.5 L469.7,404.4 Z"/>
<circle class="c" cx="447.8" cy="334.7" r="9.5"/>
<text class="cn" x="447.8" y="338.8" transform="translate(447.8 0) scale(0.86 1) translate(-447.8 0)">4</text>
<path class="ldr" d="M542.0,395.9 L520.1,375.6"/>
<path class="arw" d="M516.4,372.2 L522.1,374.9 L519.5,377.7 Z"/>
<circle class="c" cx="549" cy="402.3" r="9.5"/>
<text class="cn" x="549" y="406.4" transform="translate(549 0) scale(0.86 1) translate(-549 0)">7</text>
<path class="ldr" d="M510.4,445.8 L495.0,434.0"/>
<path class="arw" d="M491.0,431.0 L496.9,433.1 L494.6,436.2 Z"/>
<circle class="c" cx="518" cy="451.6" r="9.5"/>
<text class="cn" x="518" y="455.7" transform="translate(518 0) scale(0.86 1) translate(-518 0)">3</text>
<path class="ldr" d="M455.6,485.1 L460.5,472.5"/>
<path class="arw" d="M462.3,467.8 L461.9,474.1 L458.3,472.7 Z"/>
<circle class="c" cx="452.1" cy="493.9" r="9.5"/>
<text class="cn" x="452.1" y="498.0" transform="translate(452.1 0) scale(0.86 1) translate(-452.1 0)">4</text>
<path class="ldr" d="M451.2,536.1 L441.4,528.7"/>
<path class="arw" d="M437.4,525.7 L443.3,527.8 L441.1,530.8 Z"/>
<circle class="c" cx="458.8" cy="541.8" r="9.5"/>
<text class="cn" x="458.8" y="545.9" transform="translate(458.8 0) scale(0.86 1) translate(-458.8 0)">8</text>
<path class="ldr" d="M376.9,557.4 L355.1,527.9"/>
<path class="arw" d="M352.1,523.9 L357.2,527.6 L354.1,529.9 Z"/>
<circle class="c" cx="382.5" cy="565" r="9.5"/>
<text class="cn" x="382.5" y="569.1" transform="translate(382.5 0) scale(0.86 1) translate(-382.5 0)">3</text>
<path class="ldr" d="M328.0,574.4 L329.1,554.4"/>
<path class="arw" d="M329.4,549.4 L331.0,555.5 L327.2,555.3 Z"/>
<circle class="c" cx="327.5" cy="583.9" r="9.5"/>
<text class="cn" x="327.5" y="588.0" transform="translate(327.5 0) scale(0.86 1) translate(-327.5 0)">4</text>
<path class="ldr" d="M282.0,438.6 L290.4,452.1"/>
<path class="arw" d="M293.1,456.3 L288.3,452.2 L291.5,450.2 Z"/>
<circle class="c" cx="276.9" cy="430.6" r="9.5"/>
<text class="cn" x="276.9" y="434.7" transform="translate(276.9 0) scale(0.86 1) translate(-276.9 0)">3</text>
<path class="ldr" d="M309.9,424.6 L310.6,469.7"/>
<path class="arw" d="M310.7,474.7 L308.7,468.7 L312.5,468.7 Z"/>
<path class="ldr" d="M314.6,423.2 L321.4,434.4"/>
<path class="arw" d="M324.0,438.7 L319.3,434.6 L322.5,432.6 Z"/>
<path class="ldr" d="M312.4,424.2 L329.9,484.6"/>
<path class="arw" d="M331.3,489.4 L327.8,484.2 L331.4,483.1 Z"/>
<circle class="c" cx="309.7" cy="415.1" r="9.5"/>
<text class="cn" x="309.7" y="419.2" transform="translate(309.7 0) scale(0.86 1) translate(-309.7 0)">4</text>
<path class="ldr" d="M239.6,455.0 L248.3,468.7"/>
<path class="arw" d="M251.0,472.9 L246.2,468.9 L249.4,466.8 Z"/>
<circle class="c" cx="234.5" cy="447" r="9.5"/>
<text class="cn" x="234.5" y="451.1" transform="translate(234.5 0) scale(0.86 1) translate(-234.5 0)">9</text>
<path class="ldr" d="M134.3,479.6 L132.9,493.0"/>
<path class="arw" d="M132.4,498.0 L131.1,491.8 L134.9,492.2 Z"/>
<circle class="c" cx="135.3" cy="470.2" r="9.5"/>
<text class="cn" x="135.3" y="474.3" transform="translate(135.3 0) scale(0.86 1) translate(-135.3 0)">10</text>
<path class="ldr" d="M157.1,554.7 L184.9,552.3"/>
<path class="arw" d="M189.9,551.9 L184.1,554.3 L183.8,550.5 Z"/>
<circle class="c" cx="147.6" cy="555.5" r="9.5"/>
<text class="cn" x="147.6" y="559.6" transform="translate(147.6 0) scale(0.86 1) translate(-147.6 0)">2</text>
<path class="ldr" d="M156.6,593.6 L176.8,592.6"/>
<path class="arw" d="M181.8,592.3 L175.9,594.5 L175.7,590.7 Z"/>
<circle class="c" cx="147.1" cy="594.1" r="9.5"/>
<text class="cn" x="147.1" y="598.2" transform="translate(147.1 0) scale(0.86 1) translate(-147.1 0)">11</text>
<path class="ldr" d="M229.0,599.9 L218.9,594.1"/>
<path class="arw" d="M214.6,591.6 L220.7,593.0 L218.8,596.3 Z"/>
<circle class="c" cx="237.2" cy="604.7" r="9.5"/>
<text class="cn" x="237.2" y="608.8" transform="translate(237.2 0) scale(0.86 1) translate(-237.2 0)">4</text>
</g>
</svg>
</body></html>
